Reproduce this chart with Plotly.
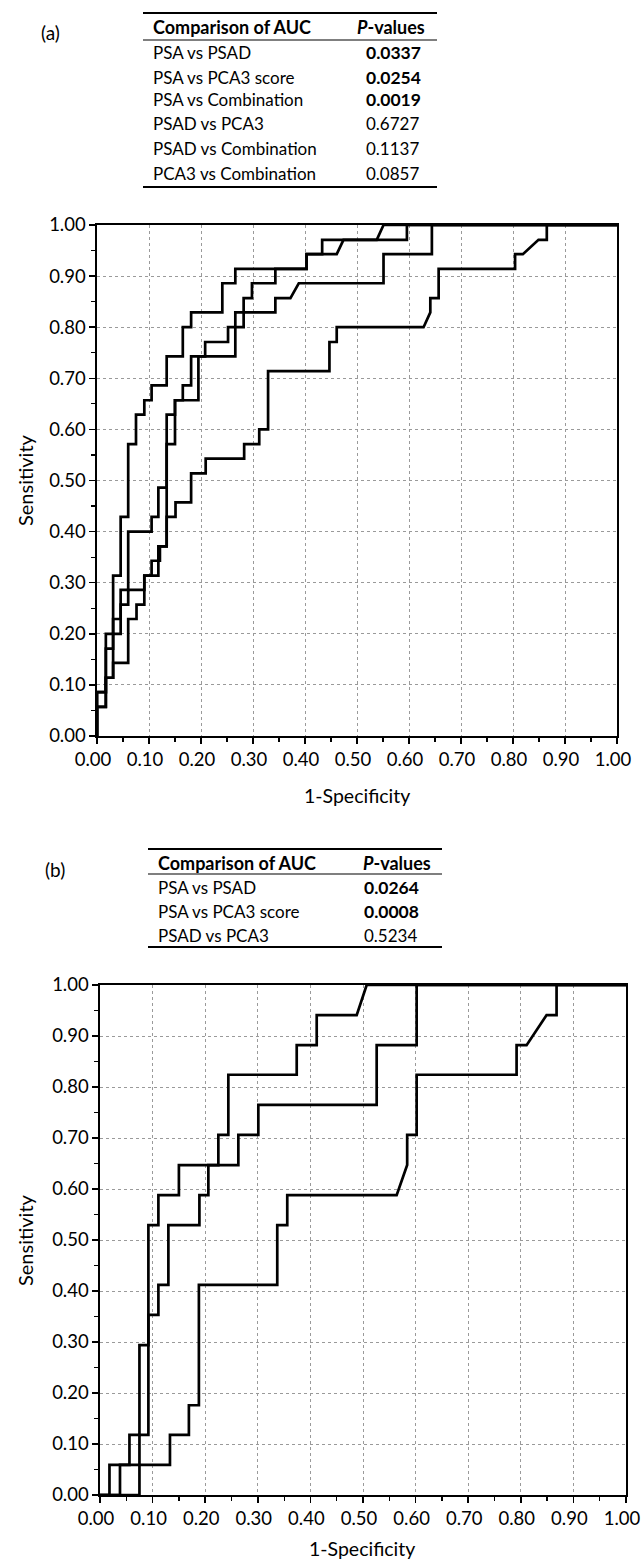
import plotly.graph_objects as go

# ---------------- data ----------------
# Panel (a) ROC vertices: 1-specificity (fpr) and sensitivity (tpr)
psa_a_fpr = [0, 0, 0.017, 0.017, 0.031, 0.031, 0.060, 0.060, 0.076, 0.076, 0.091, 0.091, 0.105, 0.105,
             0.121, 0.121, 0.134, 0.134, 0.151, 0.151, 0.181, 0.181, 0.209, 0.209, 0.283, 0.283, 0.312,
             0.312, 0.329, 0.329, 0.447, 0.447, 0.461, 0.461, 0.628, 0.641, 0.641, 0.657, 0.657, 0.804,
             0.804, 0.819, 0.849, 0.865, 0.865, 1.0]
psa_a_tpr = [0, 0.057, 0.057, 0.114, 0.114, 0.143, 0.143, 0.229, 0.229, 0.257, 0.257, 0.314, 0.314, 0.343,
             0.343, 0.371, 0.371, 0.429, 0.429, 0.457, 0.457, 0.514, 0.514, 0.543, 0.543, 0.571, 0.571,
             0.600, 0.600, 0.714, 0.714, 0.771, 0.771, 0.800, 0.800, 0.829, 0.857, 0.857, 0.914, 0.914,
             0.943, 0.943, 0.971, 0.971, 1.0, 1.0]

psad_a_fpr = [0, 0, 0.017, 0.017, 0.031, 0.031, 0.0455, 0.0455, 0.060, 0.060, 0.091, 0.091, 0.118, 0.118,
              0.134, 0.134, 0.150, 0.150, 0.195, 0.195, 0.266, 0.266, 0.343, 0.343, 0.372, 0.388, 0.551,
              0.551, 0.644, 0.644, 1.0]
psad_a_tpr = [0, 0.086, 0.086, 0.171, 0.171, 0.200, 0.200, 0.257, 0.257, 0.286, 0.286, 0.314, 0.314, 0.371,
              0.371, 0.571, 0.571, 0.657, 0.657, 0.743, 0.743, 0.829, 0.829, 0.857, 0.857, 0.886, 0.886,
              0.943, 0.943, 1.0, 1.0]

pca3_a_fpr = [0, 0, 0.017, 0.017, 0.031, 0.031, 0.0455, 0.0455, 0.060, 0.060, 0.105, 0.105, 0.118, 0.118,
              0.134, 0.134, 0.150, 0.150, 0.165, 0.165, 0.181, 0.181, 0.208, 0.208, 0.252, 0.252, 0.282,
              0.282, 0.298, 0.298, 0.343, 0.343, 0.403, 0.403, 0.433, 0.433, 0.596, 0.596, 1.0]
pca3_a_tpr = [0, 0.086, 0.086, 0.200, 0.200, 0.229, 0.229, 0.286, 0.286, 0.400, 0.400, 0.429, 0.429, 0.486,
              0.486, 0.629, 0.629, 0.657, 0.657, 0.686, 0.686, 0.743, 0.743, 0.771, 0.771, 0.800, 0.800,
              0.857, 0.857, 0.886, 0.886, 0.914, 0.914, 0.943, 0.943, 0.971, 0.971, 1.0, 1.0]

comb_a_fpr = [0, 0, 0.017, 0.017, 0.031, 0.031, 0.0455, 0.0455, 0.060, 0.060, 0.075, 0.075, 0.091, 0.091,
              0.105, 0.105, 0.134, 0.134, 0.165, 0.165, 0.181, 0.181, 0.241, 0.241, 0.266, 0.266, 0.403,
              0.403, 0.461, 0.474, 0.538, 0.551, 1.0]
comb_a_tpr = [0, 0.057, 0.057, 0.114, 0.114, 0.314, 0.314, 0.429, 0.429, 0.571, 0.571, 0.629, 0.629, 0.657,
              0.657, 0.686, 0.686, 0.743, 0.743, 0.800, 0.800, 0.829, 0.829, 0.886, 0.886, 0.914, 0.914,
              0.943, 0.943, 0.971, 0.971, 1.0, 1.0]

# Panel (b)
psa_b_fpr = [0, 0.038, 0.038, 0.133, 0.133, 0.169, 0.169, 0.188, 0.188, 0.337, 0.337, 0.356, 0.356, 0.564,
             0.584, 0.584, 0.602, 0.602, 0.792, 0.792, 0.811, 0.849, 0.868, 0.868, 1.0]
psa_b_tpr = [0, 0, 0.059, 0.059, 0.118, 0.118, 0.176, 0.176, 0.412, 0.412, 0.529, 0.529, 0.588, 0.588,
             0.647, 0.706, 0.706, 0.824, 0.824, 0.882, 0.882, 0.941, 0.941, 1.0, 1.0]

psad_b_fpr = [0, 0.075, 0.075, 0.092, 0.092, 0.111, 0.111, 0.130, 0.130, 0.189, 0.189, 0.206, 0.206, 0.263,
              0.263, 0.301, 0.301, 0.526, 0.526, 0.602, 0.602, 1.0]
psad_b_tpr = [0, 0, 0.118, 0.118, 0.353, 0.353, 0.412, 0.412, 0.529, 0.529, 0.588, 0.588, 0.647, 0.647,
              0.706, 0.706, 0.765, 0.765, 0.882, 0.882, 1.0, 1.0]

pca3_b_fpr = [0, 0.018, 0.018, 0.056, 0.056, 0.075, 0.075, 0.092, 0.092, 0.111, 0.111, 0.150, 0.150, 0.225,
              0.225, 0.244, 0.244, 0.374, 0.374, 0.412, 0.412, 0.488, 0.507, 1.0]
pca3_b_tpr = [0, 0, 0.059, 0.059, 0.118, 0.118, 0.294, 0.294, 0.529, 0.529, 0.588, 0.588, 0.647, 0.647,
              0.706, 0.706, 0.824, 0.824, 0.882, 0.882, 0.941, 0.941, 1.0, 1.0]

# Tables
table_header = ["Comparison of AUC", "P-values"]
comparisons_a = ["PSA vs PSAD", "PSA vs PCA3 score", "PSA vs Combination",
                 "PSAD vs PCA3", "PSAD vs Combination", "PCA3 vs Combination"]
pvalues_a = ["0.0337", "0.0254", "0.0019", "0.6727", "0.1137", "0.0857"]
significant_a = [True, True, True, False, False, False]

comparisons_b = ["PSA vs PSAD", "PSA vs PCA3 score", "PSAD vs PCA3"]
pvalues_b = ["0.0264", "0.0008", "0.5234"]
significant_b = [True, True, False]

tick_vals = [0.0, 0.1, 0.2, 0.3, 0.4, 0.5, 0.6, 0.7, 0.8, 0.9, 1.0]
tick_text = ["%.2f" % v for v in tick_vals]

# ---------------- layout helpers ----------------
W, H = 642, 1560
FONT = "Lato, Open Sans, sans-serif"


def px(x):
    return x / W


def py(y):
    return 1 - y / H


fig = go.Figure()

line_style = dict(color="black", width=2.7)
for xs, ys in [(psa_a_fpr, psa_a_tpr), (psad_a_fpr, psad_a_tpr),
               (pca3_a_fpr, pca3_a_tpr), (comb_a_fpr, comb_a_tpr)]:
    fig.add_trace(go.Scatter(x=xs, y=ys, mode="lines", line=line_style,
                             xaxis="x", yaxis="y", showlegend=False, hoverinfo="skip"))
for xs, ys in [(psa_b_fpr, psa_b_tpr), (psad_b_fpr, psad_b_tpr), (pca3_b_fpr, pca3_b_tpr)]:
    fig.add_trace(go.Scatter(x=xs, y=ys, mode="lines", line=line_style,
                             xaxis="x2", yaxis="y2", showlegend=False, hoverinfo="skip"))

axis_common = dict(
    range=[0, 1], tickvals=tick_vals, ticktext=tick_text,
    showline=True, linecolor="black", linewidth=1.6, mirror=True,
    ticks="outside", ticklen=6, tickwidth=1.5, tickcolor="black",
    minor=dict(ticks="outside", ticklen=4, tickwidth=1.2, tickcolor="black",
               dtick=0.05, tick0=0, showgrid=False),
    showgrid=True, gridcolor="#9a9a9a", gridwidth=1, griddash="dot",
    zeroline=False, tickfont=dict(family=FONT, size=18.5, color="black"),
    fixedrange=True, automargin=False, ticklabeloverflow="allow",
)
x_extra = dict(ticklabelshift=-4)

# plot areas in pixels: (a) x 97-617, y 225-736 ; (b) x 100-626, y 985-1495
fig.update_layout(
    template="none",
    width=W, height=H, autosize=False,
    margin=dict(l=0, r=0, t=0, b=0, pad=0),
    paper_bgcolor="white", plot_bgcolor="white",
    xaxis=dict(domain=[px(97), px(617)], anchor="y", **axis_common, **x_extra),
    yaxis=dict(domain=[py(736), py(225)], anchor="x", **axis_common),
    xaxis2=dict(domain=[px(100), px(626)], anchor="y2", **axis_common, **x_extra),
    yaxis2=dict(domain=[py(1495), py(985)], anchor="x2", **axis_common),
    showlegend=False,
)

annotations = []
shapes = []


def text(x, y, s, size=17, anchor="left", bold=False, angle=0):
    if bold:
        s = "<b>" + s + "</b>"
    annotations.append(dict(x=px(x), y=py(y), xref="paper", yref="paper", text=s,
                            showarrow=False, xanchor=anchor, yanchor="middle",
                            textangle=angle, borderpad=0,
                            font=dict(family=FONT, size=size, color="black")))


def hline(x0, x1, y, w):
    shapes.append(dict(type="line", xref="paper", yref="paper",
                       x0=px(x0), x1=px(x1), y0=py(y), y1=py(y),
                       line=dict(color="black", width=w)))


def table(x0, x1, top, label, label_x, label_y, comps, pvals, sig, text_x, val_x, hdr_x, rows_y,
          header_y, underline_y, bottom_y):
    hline(x0, x1, top, 2)
    hline(x0, x1, underline_y, 1.2)
    hline(x0, x1, bottom_y, 2)
    text(label_x, label_y, label, size=19)
    text(text_x, header_y, table_header[0], size=18, bold=True)
    text(hdr_x, header_y, "<b><i>P</i>-values</b>", size=18)
    for c, v, s, yy in zip(comps, pvals, sig, rows_y):
        text(text_x, yy, c, size=17)
        text(val_x, yy, v, size=17.5 if s else 17, bold=s)


table(143, 437, 13, "(a)", 40, 32, comparisons_a, pvalues_a, significant_a, 152, 365, 356,
      [53, 77, 100, 124, 148, 173], 27, 40, 187)
table(148, 442, 849, "(b)", 44, 869, comparisons_b, pvalues_b, significant_b, 157, 363, 362,
      [887, 911, 935], 863, 874, 947)

# axis titles
text(25, 480, "Sensitivity", size=20, anchor="center", angle=-90)
text(357, 795, "1-Specificity", size=19.5, anchor="center")
text(25, 1240, "Sensitivity", size=20, anchor="center", angle=-90)
text(362, 1548, "1-Specificity", size=19.5, anchor="center")

fig.update_layout(annotations=annotations, shapes=shapes)

fig.write_html("out.html", config={"displayModeBar": False, "staticPlot": True},
               post_script="document.body.style.margin='0';")
